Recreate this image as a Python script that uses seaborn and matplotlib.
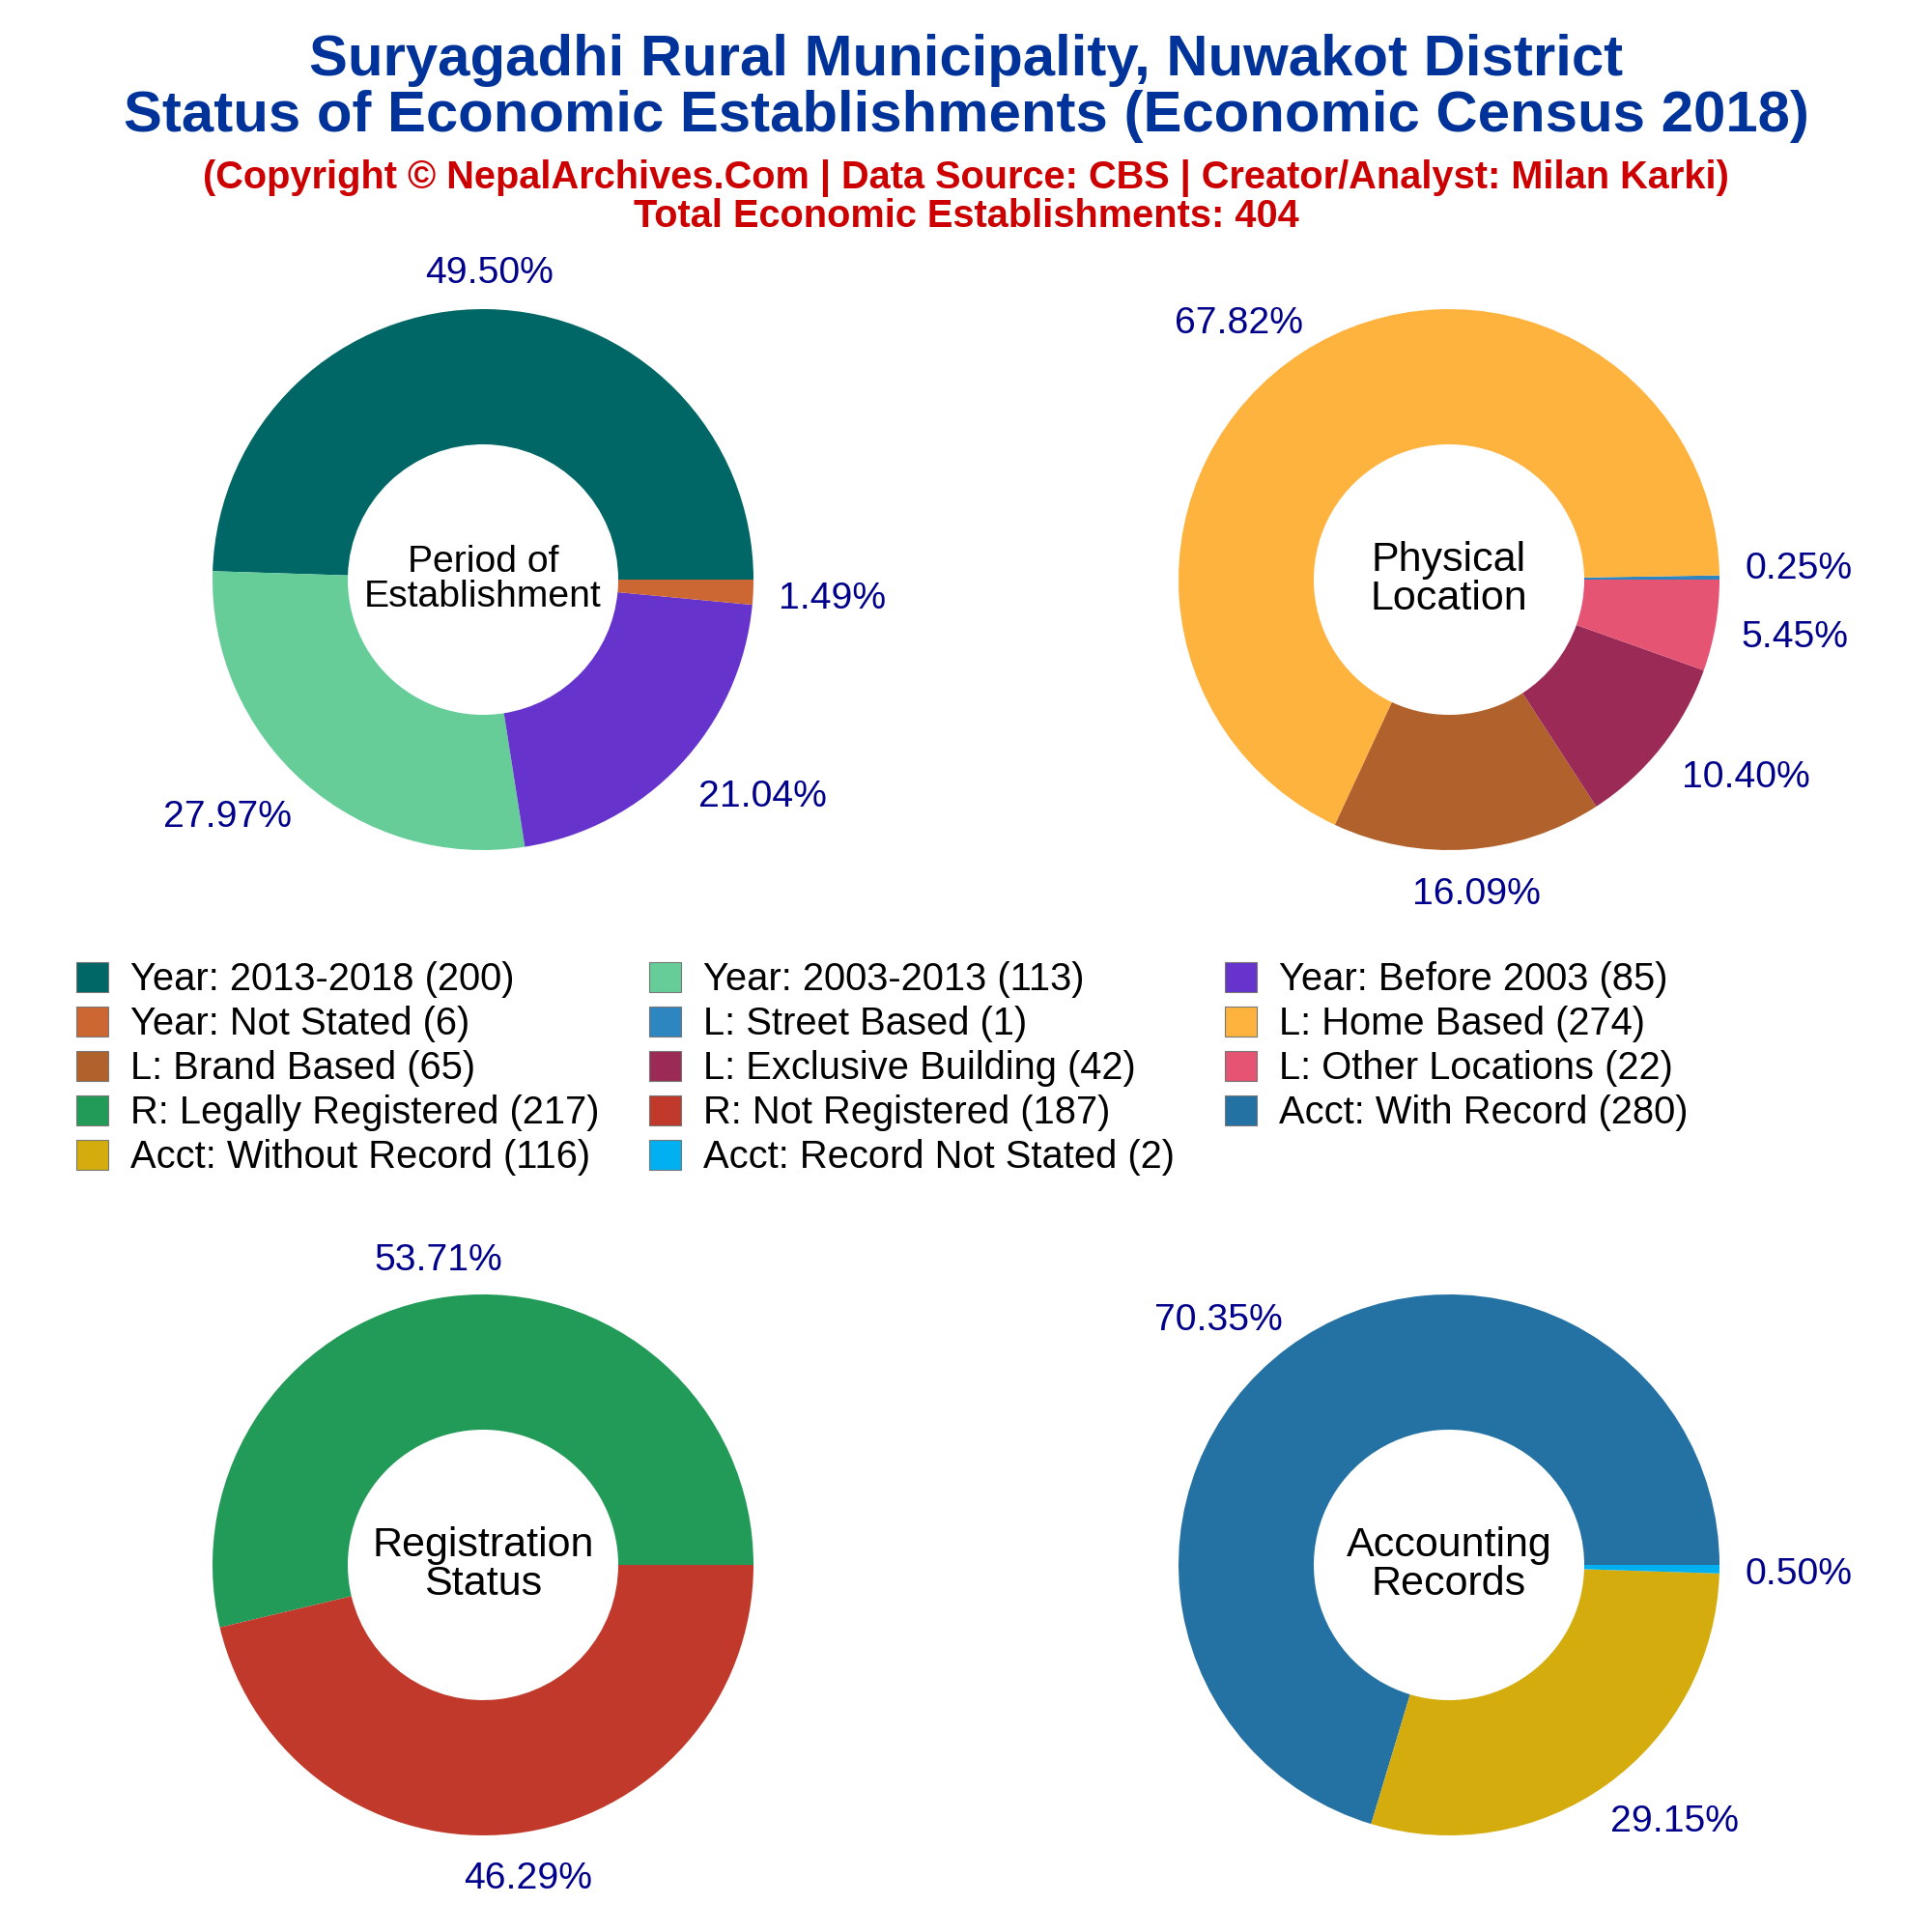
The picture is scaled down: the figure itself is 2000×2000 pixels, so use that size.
import matplotlib
matplotlib.use("Agg")
import matplotlib.pyplot as plt
from matplotlib.patches import Patch
import numpy as np
import seaborn as sns

period_vals = [200, 113, 85, 6]
period_colors = ["#006666", "#66CD99", "#6633CC", "#CC6633"]
location_vals = [1, 274, 65, 42, 22]
location_colors = ["#2E86C1", "#FFB33F", "#B1612C", "#9C2A56", "#E55473"]
reg_vals = [217, 187]
reg_colors = ["#229A58", "#C0392B"]
acct_vals = [280, 116, 2]
acct_colors = ["#2471A3", "#D4AC0D", "#00B0F0"]

period_labels = ["Year: 2013-2018 (200)", "Year: 2003-2013 (113)", "Year: Before 2003 (85)", "Year: Not Stated (6)"]
location_labels = ["L: Street Based (1)", "L: Home Based (274)", "L: Brand Based (65)", "L: Exclusive Building (42)", "L: Other Locations (22)"]
reg_labels = ["R: Legally Registered (217)", "R: Not Registered (187)"]
acct_labels = ["Acct: With Record (280)", "Acct: Without Record (116)", "Acct: Record Not Stated (2)"]

sns.set_theme(style="white")
plt.rcParams["font.family"] = ["Liberation Sans", "DejaVu Sans"]

fig = plt.figure(figsize=(10, 10), dpi=200)
renderer = fig.canvas.get_renderer()


def donut(rect, vals, colors, center, center_size=15.5, lift_first=0):
    ax = fig.add_axes(rect)
    wedges, _ = ax.pie(vals, colors=colors, startangle=0, counterclock=True, radius=1,
                       wedgeprops=dict(width=0.5, linewidth=0))
    ax.text(0, 0, center, ha="center", va="center", fontsize=center_size,
            color="black", linespacing=1.03)
    ax.set_xlim(-1, 1)
    ax.set_ylim(-1, 1)
    ax.set_aspect("equal")
    total = sum(vals)
    for i, (wedge, v) in enumerate(zip(wedges, vals)):
        ang = np.deg2rad((wedge.theta1 + wedge.theta2) / 2)
        # labels sit on an ellipse and lean outwards by their own width
        t = ax.annotate(f"{v / total * 100:.2f}%", xy=(1.095 * np.cos(ang), 1.15 * np.sin(ang)),
                        xytext=(0, 0), textcoords="offset points", ha="center", va="center",
                        fontsize=14.1, color="#00008B", annotation_clip=False)
        half = t.get_window_extent(renderer).width * 72 / fig.dpi / 2
        lift = lift_first if i == 0 else 0
        t.set_position((np.clip(1.4 * np.cos(ang), -1, 1) * half, -1.8 + lift))
    return ax


w = 560 / 2000
h = 560 / 2000
donut([220 / 2000, 1 - 880 / 2000, w, h], period_vals, period_colors, "Period of\nEstablishment", 14.1)
# the 0.25% label is pushed up clear of the 5.45% one
donut([1220 / 2000, 1 - 880 / 2000, w, h], location_vals, location_colors, "Physical\nLocation", lift_first=5)
donut([220 / 2000, 1 - 1900 / 2000, w, h], reg_vals, reg_colors, "Registration\nStatus")
donut([1220 / 2000, 1 - 1900 / 2000, w, h], acct_vals, acct_colors, "Accounting\nRecords")

fig.text(0.5, 0.969, "Suryagadhi Rural Municipality, Nuwakot District", ha="center", va="center",
         fontsize=21.55, fontweight="bold", color="#003399")
fig.text(0.5, 0.9395, "Status of Economic Establishments (Economic Census 2018)", ha="center", va="center",
         fontsize=21.55, fontweight="bold", color="#003399")
fig.text(0.5, 0.9075, "(Copyright © NepalArchives.Com | Data Source: CBS | Creator/Analyst: Milan Karki)",
         ha="center", va="center", fontsize=14.3, fontweight="bold", color="#CC0000")
fig.text(0.5, 0.888, "Total Economic Establishments: 404", ha="center", va="center",
         fontsize=14.3, fontweight="bold", color="#CC0000")

all_labels = period_labels + location_labels + reg_labels + acct_labels
all_colors = period_colors + location_colors + reg_colors + acct_colors
# row-wise order in the picture, matplotlib fills by column
ncol = 3
cols = [[], [], []]
for i, (lab, c) in enumerate(zip(all_labels, all_colors)):
    cols[i % ncol].append(Patch(facecolor=c, edgecolor="#777777", linewidth=0.4, label=lab))
handles = cols[0] + cols[1] + cols[2]
fig.legend(handles=handles, loc="upper left", bbox_to_anchor=(0.0395, 0.5023), ncol=3, frameon=False,
           fontsize=14.35, labelcolor="black", handlelength=0.83, handleheight=0.83, handletextpad=0.57,
           columnspacing=1.3, labelspacing=0.2, borderpad=0, borderaxespad=0)

fig.savefig("out.png", dpi=200)
